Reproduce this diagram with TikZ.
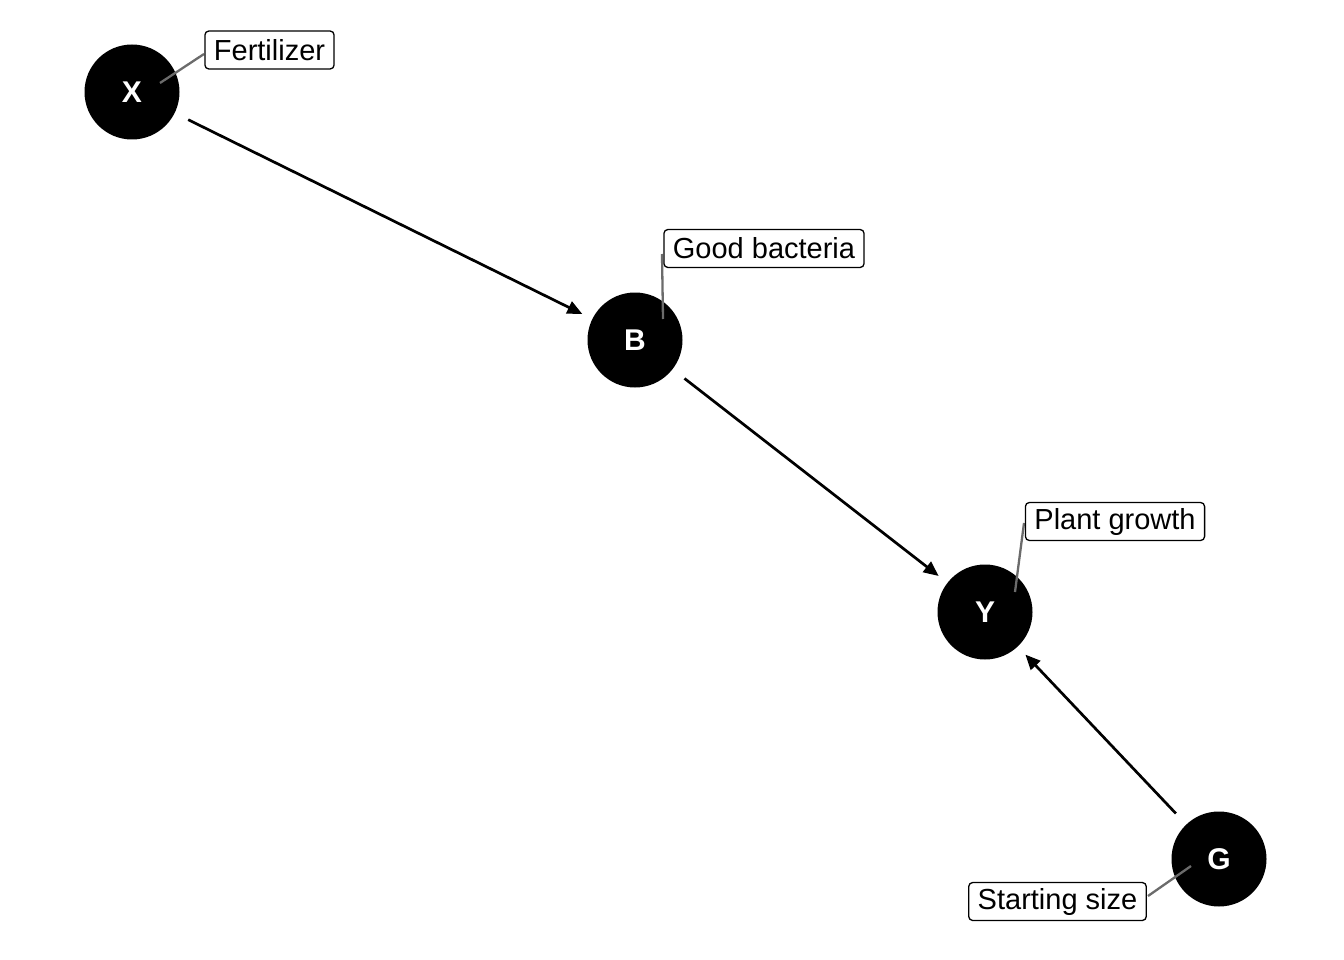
\documentclass[tikz,border=0pt]{standalone}
\usepackage{fontspec}
\setmainfont{Liberation Sans}
\usetikzlibrary{arrows.meta}
\begin{document}
\begin{tikzpicture}[x=1pt,y=-1pt,
  var/.style={circle,fill=black,minimum size=95pt,inner sep=0pt,
    text=white,font=\fontsize{30}{32}\selectfont\bfseries},
  tag/.style={draw=black,line width=1.3pt,rounded corners=4pt,fill=white,
    inner xsep=9pt,inner ysep=0pt,minimum height=38pt,
    font=\fontsize{29}{31}\selectfont},
  leader/.style={draw=black!58,line width=2.3pt},
  edge/.style={draw=black,line width=2.7pt,
    -{Triangle[length=15pt,width=13pt]},shorten <=15pt,shorten >=11pt}]
\useasboundingbox (0,0) rectangle (1344,960);

% variables
\node[var] (X) at (132,92) {X};
\node[var] (B) at (635,340) {B};
\node[var] (Y) at (985,612) {Y};
\node[var] (G) at (1219,859) {G};

% causal edges
\draw[edge] (X) -- (B);
\draw[edge] (B) -- (Y);
\draw[edge] (G) -- (Y);

% leader ends: inside each circle, and on the edge of its label box
\coordinate (xl) at (160,83);
\coordinate (bl) at (663,319);
\coordinate (yl) at (1015,592);
\coordinate (gl) at (1191,866);
\coordinate (xt) at (204,54);
\coordinate (bt) at (662,254);
\coordinate (yt) at (1024,523);
\coordinate (gt) at (1148,896);

% leaders, drawn before the label boxes so the boxes cover their ends
\path[leader] (xl) -- (xt);
\path[leader] (bl) -- (bt);
\path[leader] (yl) -- (yt);
\path[leader] (gl) -- (gt);

% labels
\node[tag] (fert) at (269.5,50) {Fertilizer};
\node[tag] (bact) at (764,248.5) {Good bacteria};
\node[tag] (grow) at (1115,521.5) {Plant growth};
\node[tag] (size) at (1057.5,901.5) {Starting size};
\end{tikzpicture}
\end{document}
